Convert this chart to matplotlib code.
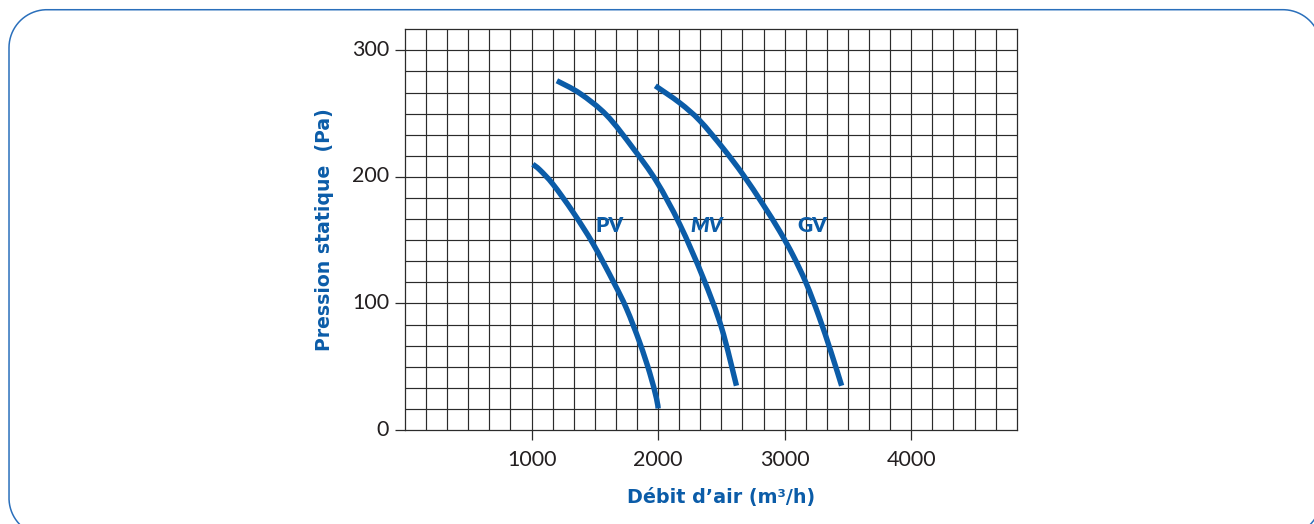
import matplotlib
matplotlib.use("Agg")
import matplotlib.pyplot as plt
from matplotlib.lines import Line2D
from matplotlib.path import Path
from matplotlib.patches import PathPatch
from matplotlib.transforms import IdentityTransform, ScaledTranslation
from matplotlib.font_manager import FontProperties
import numpy as np

# ---- data ----
pv_x = [1010, 1066, 1171, 1329, 1487, 1650, 1750, 1855, 1934, 1987, 2000]
pv_y = [210, 205.5, 194, 172, 147, 116.5, 96, 69, 45, 25, 17]

mv_x = [1200, 1382, 1592, 1802, 1987, 2171, 2355, 2500, 2619]
mv_y = [276, 266, 248.9, 222.7, 196.5, 162.5, 120.5, 81.2, 35]

gv_x = [1978, 2171, 2329, 2513, 2671, 2829, 2960, 3066, 3170, 3270, 3365, 3450]
gv_y = [272, 258.5, 244.5, 222.7, 201.8, 178.2, 157.2, 138, 116, 90, 62, 35]

series_names = ["PV", "MV", "GV"]
label_x = [1614, 2384, 3220]
label_y = [162, 162, 162]

x_ticks = [1000, 2000, 3000, 4000]
y_ticks = [0, 100, 200, 300]
x_label = "Débit d\u2019air (m\u00b3/h)"
y_label = "Pression statique  (Pa)"

BLUE = "#0b5ca8"
GRID = "#2b2b2b"

plt.rcParams['font.family'] = ['Lato', 'DejaVu Sans']

fig = plt.figure(figsize=(13.14, 5.24), dpi=100)
ax = fig.add_axes([405/1314, 1 - 430/524, (1016.7-405)/1314, (430-29.3)/524])

xmax = 29 * 1000/6
ymax = 19 * 100/6
ax.set_xlim(0, xmax)
ax.set_ylim(0, ymax)

# grid
for gx in np.arange(1, 29) * 1000/6:
    ax.axvline(gx, color=GRID, lw=0.85, zorder=1)
for gy in np.arange(1, 19) * 100/6:
    ax.axhline(gy, color=GRID, lw=0.85, zorder=1)
for s in ax.spines.values():
    s.set_color(GRID)
    s.set_linewidth(0.9)


def smooth_path(xs, ys):
    """Smooth (Catmull-Rom style) cubic Bezier path through the read points."""
    P = np.column_stack([xs, ys]).astype(float)
    Q = np.vstack([P[:1], P, P[-1:]])
    verts = [P[0]]
    codes = [Path.MOVETO]
    for i in range(1, len(Q) - 2):
        c1 = Q[i] + (Q[i + 1] - Q[i - 1]) / 6.0
        c2 = Q[i + 1] - (Q[i + 2] - Q[i]) / 6.0
        verts += [c1, c2, Q[i + 1]]
        codes += [Path.CURVE4] * 3
    return Path(verts, codes)


for xs, ys in [(pv_x, pv_y), (mv_x, mv_y), (gv_x, gv_y)]:
    ax.add_patch(PathPatch(smooth_path(xs, ys), fill=False, edgecolor=BLUE,
                           lw=3.9, capstyle='butt', joinstyle='round',
                           zorder=3))

styles = ['normal', 'italic', 'normal']
for name, lx, ly, st in zip(series_names, label_x, label_y, styles):
    fp = FontProperties(family='Lato', weight='heavy', style=st, size=15)
    ax.text(lx, ly, name, color=BLUE, fontproperties=fp,
            ha='center', va='center', zorder=4)

ax.set_xticks(x_ticks)
ax.set_yticks(y_ticks)
ax.tick_params(axis='both', direction='out', length=7.5, width=0.9,
               color=GRID, labelsize=15.5, labelcolor='#231f20')
ax.tick_params(axis='x', pad=7)
ax.tick_params(axis='y', pad=4)
# y tick labels sit slightly above their ticks in the reference
for lab in ax.get_yticklabels():
    lab.set_transform(lab.get_transform() +
                      ScaledTranslation(0, 2.5/100, fig.dpi_scale_trans))

ax.set_xlabel(x_label, color=BLUE, fontsize=13.8, fontweight='bold',
              family='DejaVu Sans')
ax.xaxis.set_label_coords((721.5-405)/(1016.7-405), -(498-430)/(430-29.3))
ax.xaxis.label.set_va('center')
ax.set_ylabel(y_label, color=BLUE, fontsize=13.6, fontweight='bold',
              family='DejaVu Sans')
ax.yaxis.set_label_coords(-(405-325)/(1016.7-405), 0.5)
ax.yaxis.label.set_va('center')

# rounded frame in pixel coordinates (y up), partly outside the canvas
L, R, B, T, r = 9.0, 1321.0, 524 - 536.0, 524 - 9.7, 38.0
def arc(cx, cy, a0, a1, n=40):
    t = np.radians(np.linspace(a0, a1, n))
    return cx + r*np.cos(t), cy + r*np.sin(t)
segs = [arc(R - r, T - r, 0, 90), arc(L + r, T - r, 90, 180),
        arc(L + r, B + r, 180, 270), arc(R - r, B + r, 270, 360)]
fx = np.concatenate([s[0] for s in segs] + [segs[0][0][:1]])
fy = np.concatenate([s[1] for s in segs] + [segs[0][1][:1]])
fig.add_artist(Line2D(fx, fy, transform=IdentityTransform(),
                      color="#2a6fbb", lw=1.1))

fig.savefig("out.png", dpi=100)
